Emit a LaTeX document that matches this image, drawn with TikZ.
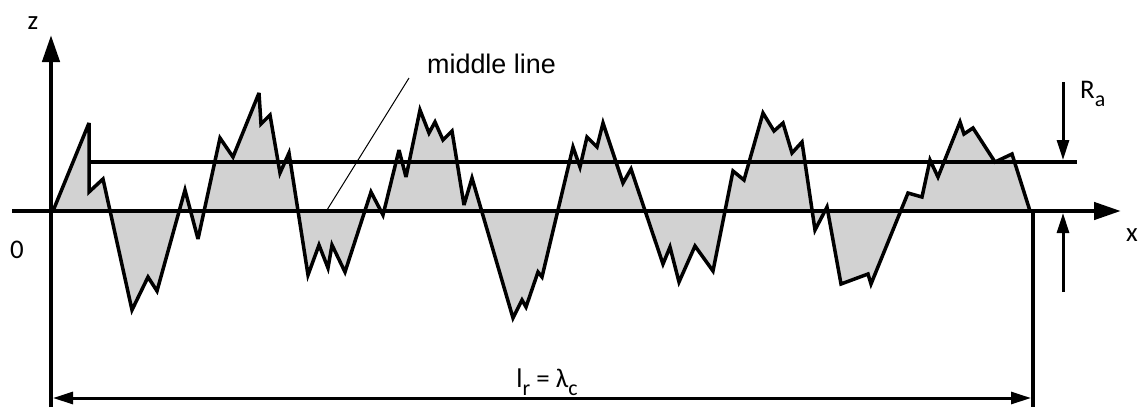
\documentclass[tikz,border=0pt]{standalone}
\usepackage{fontspec}
\setmainfont{Carlito}
\newfontfamily\arialf{Liberation Sans}
\usetikzlibrary{arrows.meta}
\definecolor{profgray}{HTML}{D2D2D2}
\tikzset{
  axisline/.style={line width=4.5bp, -{Triangle[length=27bp,width=17bp]}},
  thickline/.style={line width=3.5bp},
  profile/.style={line width=3.5bp, line join=miter, miter limit=4},
  dimarrow/.style={line width=3bp, {Triangle[length=20bp,width=12bp]}-{Triangle[length=20bp,width=12bp]}},
  raarrow/.style={line width=3bp, -{Triangle[length=20bp,width=12bp]}},
  lbl/.style={inner sep=0pt, font=\fontsize{27}{27}\selectfont},
  lblarial/.style={inner sep=0pt, font=\arialf\fontsize{27}{27}\selectfont},
  leader/.style={line width=1bp}
}
\begin{document}
\begin{tikzpicture}[x=1bp,y=-1bp]
\useasboundingbox (0,0) rectangle (1141,407);
% profile fill
\def\prof{(53,211) -- (89,123) -- (89,192) -- (103,179) -- (132,310) -- (148,277) -- (157,291) -- (185,190) -- (198,239) -- (220,138) -- (233,157) -- (259,93) -- (261,124) -- (270,115) -- (280,173) -- (289,153) -- (308,275) -- (319,245) -- (328,268) -- (332,245) -- (345,272) -- (371,192) -- (383,215) -- (399,150) -- (406,177) -- (420,110) -- (429,133) -- (435,122) -- (443,140) -- (452,131) -- (464,205) -- (472,178) -- (513,318) -- (522,300) -- (526,307) -- (538,272) -- (542,277) -- (573,147) -- (580,167) -- (587,137) -- (597,147) -- (603,123) -- (623,183) -- (631,169) -- (663,264) -- (670,247) -- (679,282) -- (695,246) -- (713,271) -- (733,171) -- (744,180) -- (763,113) -- (774,131) -- (783,123) -- (792,153) -- (802,142) -- (815,230) -- (827,207) -- (841,284) -- (868,274) -- (871,284) -- (908,193) -- (922,197) -- (930,160) -- (938,177) -- (960,122) -- (964,134) -- (973,128) -- (995,162) -- (1012,154) -- (1030,211)}
\fill[profgray] \prof -- cycle;
% Ra line
\coordinate (raL) at (90,162);
\coordinate (raR) at (1077,162);
\draw[thickline] (raL) -- (raR);
% profile outline
\draw[profile] \prof;
% axes
\coordinate (xs) at (12,211);
\coordinate (xe) at (1121,211);
\coordinate (zs) at (51,407);
\coordinate (ze) at (51,35);
\draw[axisline] (xs) -- (xe);
\draw[axisline] (zs) -- (ze);
% right vertical
\coordinate (vt) at (1033,211);
\coordinate (vb) at (1033,407);
\draw[line width=4bp] (vt) -- (vb);
% dimension arrow
\coordinate (dl) at (53,398);
\coordinate (dr) at (1031,398);
\draw[dimarrow] (dl) -- (dr);
% Ra arrows
\coordinate (ra1s) at (1063,82);
\coordinate (ra1e) at (1063,160);
\coordinate (ra2s) at (1063,292);
\coordinate (ra2e) at (1063,213);
\draw[raarrow] (ra1s) -- (ra1e);
\draw[raarrow] (ra2s) -- (ra2e);
% labels
\node[lbl] (zl) at (33,23) {z};
\node[lbl] (ol) at (17,250) {0};
\node[lbl] (xl) at (1132,235) {x};
\node[lbl, anchor=base west] (ral) at (1080,98) {R\raisebox{-0.3em}{\fontsize{22}{22}\selectfont a}};
\node[lblarial, anchor=base west] (ml) at (427,73) {middle line};
\node[lbl, anchor=base] (lr) at (547,387) {l\raisebox{-0.3em}{\fontsize{22}{22}\selectfont r} = λ\raisebox{-0.3em}{\fontsize{22}{22}\selectfont c}};
% leader
\coordinate (ldA) at (409,78);
\coordinate (ldB) at (327,210);
\draw[leader] (ldA) -- (ldB);
\end{tikzpicture}
\end{document}
